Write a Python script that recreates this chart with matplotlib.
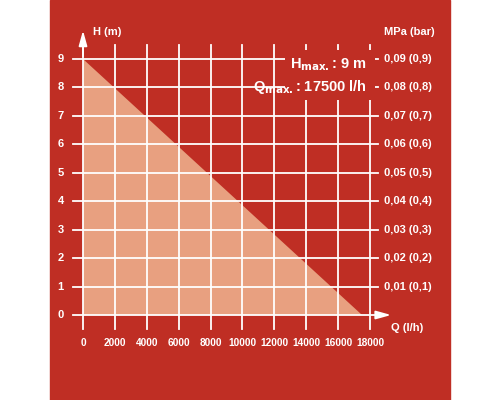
import matplotlib.pyplot as plt
from matplotlib.patches import Rectangle, Polygon

q_ticks = [0, 2000, 4000, 6000, 8000, 10000, 12000, 14000, 16000, 18000]
h_ticks = [0, 1, 2, 3, 4, 5, 6, 7, 8, 9]
mpa_labels = ["0,01 (0,1)", "0,02 (0,2)", "0,03 (0,3)", "0,04 (0,4)", "0,05 (0,5)",
              "0,06 (0,6)", "0,07 (0,7)", "0,08 (0,8)", "0,09 (0,9)"]
curve_q = [0, 17500]
curve_h = [9, 0]

RED = "#BF2E24"
FILL = "#E8A080"
plt.rcParams["font.family"] = ["Liberation Sans", "DejaVu Sans"]

fig = plt.figure(figsize=(5, 4), dpi=100)
ax = fig.add_axes([0, 0, 1, 1])
# pixel mapping: q=0 -> x 83, q=18000 -> x 370 ; h=0 -> y 315, h=9 -> y 59
sx = 287 / 18000
sy = 256 / 9
ax.set_xlim(-83 / sx, (500 - 83) / sx)
ax.set_ylim(-(400 - 315) / sy, 315 / sy)
ax.axis("off")

ax.add_patch(Rectangle((-33 / sx, ax.get_ylim()[0]), 400 / sx, 400 / sy, color=RED, zorder=0))

ax.add_patch(Polygon([(0, 0), (curve_q[0], curve_h[0]), (curve_q[1], curve_h[1])],
                     closed=True, color=FILL, zorder=1, lw=0))

lw = 1.3
for q in q_ticks:
    ax.plot([q, q], [-0.5, 9.5], color="white", lw=lw, zorder=2)
for h in h_ticks:
    ax.plot([-650, 18500], [h, h], color="white", lw=lw, zorder=2)

# red box behind the max values
ax.add_patch(Rectangle((12700, 7.55), 5600, 1.75, color=RED, zorder=3, lw=0))

# axis arrows
ax.annotate("", xy=(0, 10.1), xytext=(0, 9.0),
            arrowprops=dict(arrowstyle="-|>,head_width=0.25,head_length=0.9", color="white", lw=lw))
ax.annotate("", xy=(19500, 0), xytext=(18400, 0),
            arrowprops=dict(arrowstyle="-|>,head_width=0.25,head_length=0.9", color="white", lw=lw))

tk = dict(color="white", fontsize=8, fontweight="bold")
for h in h_ticks:
    ax.text(-1400, h, str(h), ha="center", va="center", **tk)
for q in q_ticks:
    ax.text(q, -1.0, str(q), ha="center", va="center", color="white", fontsize=7.3, fontweight="bold")
for h, lab in zip(h_ticks[1:], mpa_labels):
    ax.text(18900, h, lab, ha="left", va="center", **tk)

ax.text(600, 9.95, "H (m)", ha="left", va="center", **tk)
ax.text(19300, -0.45, "Q (l/h)", ha="left", va="center", **tk)
ax.text(18900, 9.95, "MPa (bar)", ha="left", va="center", **tk)

big = dict(color="white", fontsize=10.5, fontweight="bold", zorder=4)
ax.text(17800, 8.8, r"H$_{\mathbf{max.}}$: 9 m", ha="right", va="center", **big)
ax.text(17800, 8.0, r"Q$_{\mathbf{max.}}$: 17500 l/h", ha="right", va="center", **big)

fig.savefig("out.png", dpi=100)
